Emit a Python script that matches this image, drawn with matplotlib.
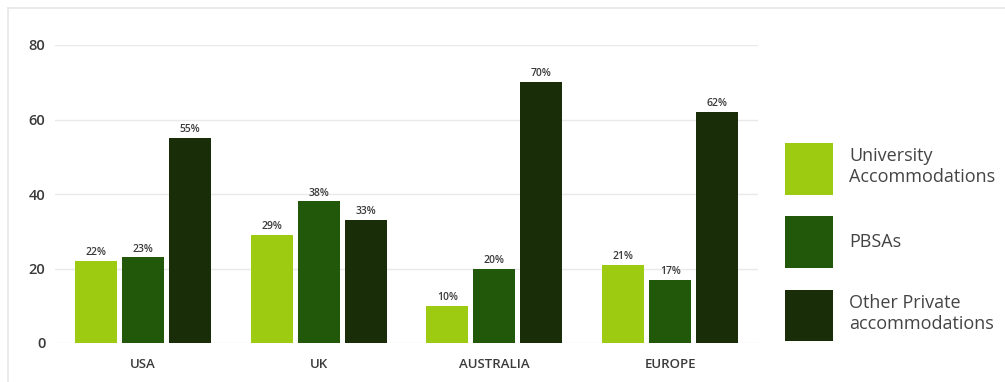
import numpy as np
import matplotlib.pyplot as plt
from matplotlib.lines import Line2D

plt.rcParams['font.family'] = ['Open Sans', 'DejaVu Sans']

###############################################################################
# Data
###############################################################################
regions = ["USA", "UK", "AUSTRALIA", "EUROPE"]
series_names = ["University\nAccommodations", "PBSAs", "Other Private\naccommodations"]
university = [22, 29, 10, 21]
pbsa = [23, 38, 20, 17]
other_private = [55, 33, 70, 62]
yticks = [0, 20, 40, 60, 80]

colours = ["#9ccb12", "#21580a", "#1a2d09"]
text_col = "#3a3a3a"

###############################################################################
# Plot
###############################################################################
fig = plt.figure(figsize=(10.05, 3.82), dpi=100)
ax = fig.add_axes([55/1005, 1-343/382, (758-55)/1005, (343-45)/382])

x = np.arange(len(regions))
step = 0.268
width = 0.239
all_series = [university, pbsa, other_private]
for i, vals in enumerate(all_series):
    bars = ax.bar(x + (i-1)*step, vals, width, color=colours[i],
                  label=series_names[i], zorder=3)
    for b, v in zip(bars, vals):
        ax.annotate(f"{v}%", (b.get_x()+b.get_width()/2, v),
                    xytext=(0, 2), textcoords="offset points",
                    ha="center", va="bottom", fontsize=7.5, color=text_col,
                    fontweight="semibold")

ax.set_xlim(-0.5, 3.5)
ax.set_ylim(0, 80)
ax.set_yticks(yticks)
ax.set_xticks(x)
ax.set_xticklabels(regions, fontsize=9.5, color=text_col, fontweight="semibold")
ax.tick_params(axis="y", length=0, pad=7, labelsize=10.5, labelcolor=text_col)
for t in ax.get_yticklabels():
    t.set_fontweight("semibold")
ax.tick_params(axis="x", length=0, pad=11)
ax.grid(axis="y", color="#e9e9e9", linewidth=1, zorder=0)
for s in ax.spines.values():
    s.set_visible(False)

leg = ax.legend(loc="upper left", bbox_to_anchor=(785/1005, 1-143/382),
                bbox_transform=fig.transFigure, frameon=False, fontsize=13,
                handlelength=2.66, handleheight=4.05, labelspacing=1.18,
                handletextpad=0.89, borderpad=0, borderaxespad=0)
for t in leg.get_texts():
    t.set_color("#444444")

# light frame on top and left
fig.add_artist(Line2D([8/1005, 1], [1-8/382, 1-8/382], color="#e6e6e6", lw=1.2))
fig.add_artist(Line2D([8/1005, 8/1005], [0, 1-8/382], color="#e6e6e6", lw=1.2))

plt.savefig("out.png", dpi=100)
